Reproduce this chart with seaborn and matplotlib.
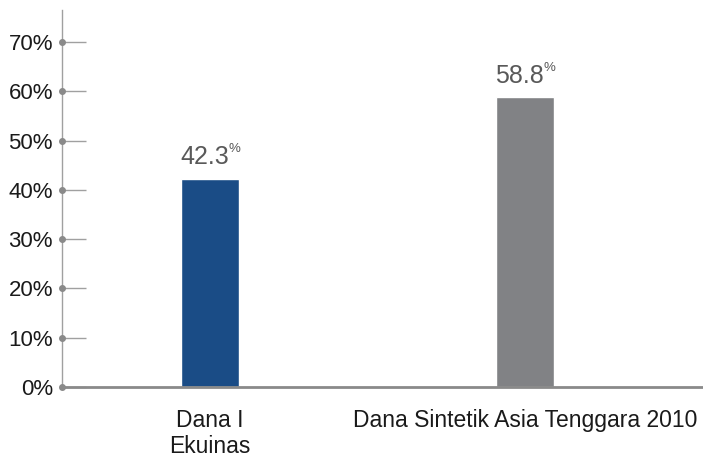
import matplotlib
matplotlib.use("Agg")
import matplotlib.pyplot as plt
import seaborn as sns
import pandas as pd

categories = ["Dana I\nEkuinas", "Dana Sintetik Asia Tenggara 2010"]
values = [42.3, 58.8]
value_labels = ["42.3", "58.8"]
colors = ["#1a4c86", "#818285"]
yticks = [0, 10, 20, 30, 40, 50, 60, 70]
ytick_labels = ["0%", "10%", "20%", "30%", "40%", "50%", "60%", "70%"]

sns.set_style("white")
plt.rcParams["font.family"] = ["Liberation Sans", "DejaVu Sans"]

fig = plt.figure(figsize=(7.03, 4.57), dpi=100)
ax = fig.add_axes([62 / 703, 70 / 457, 1 - 62 / 703, 377 / 457])

df = pd.DataFrame({"cat": categories, "val": values})
sns.barplot(data=df, x="cat", y="val", hue="cat", palette=colors, width=0.184,
            legend=False, ax=ax, saturation=1)

ax.set_xlim(-0.47, 1.566)
ax.set_ylim(0, 76.5)
ax.set_xlabel("")
ax.set_ylabel("")

for s in ["top", "right"]:
    ax.spines[s].set_visible(False)
ax.spines["left"].set_color("#a0a0a0")
ax.spines["left"].set_linewidth(1.0)
ax.spines["bottom"].set_color("#8a8a8a")
ax.spines["bottom"].set_linewidth(2.0)

ax.set_yticks(yticks)
ax.set_yticklabels(ytick_labels, fontsize=16, color="#1a1a1a")
ax.tick_params(axis="y", left=True, direction="in", length=17, width=1,
               color="#a0a0a0", pad=6.5)
ax.tick_params(axis="x", bottom=False, length=0, pad=16, labelsize=16.5,
               labelcolor="#1a1a1a")
for lab in ax.get_xticklabels():
    lab.set_linespacing(1.15)

# dots on the y axis at each tick
ax.plot([-0.47] * len(yticks), yticks, "o", color="#8a8a8a", markersize=4,
        clip_on=False, zorder=5)

for i, (v, lab) in enumerate(zip(values, value_labels)):
    ax.annotate(lab, xy=(i, v), xytext=(13.5, 7), textcoords="offset points",
                ha="right", va="bottom", fontsize=18, color="#595959")
    ax.annotate("%", xy=(i, v), xytext=(13.5, 17), textcoords="offset points",
                ha="left", va="bottom", fontsize=9.5, color="#595959")

fig.savefig("out.png", dpi=100)
